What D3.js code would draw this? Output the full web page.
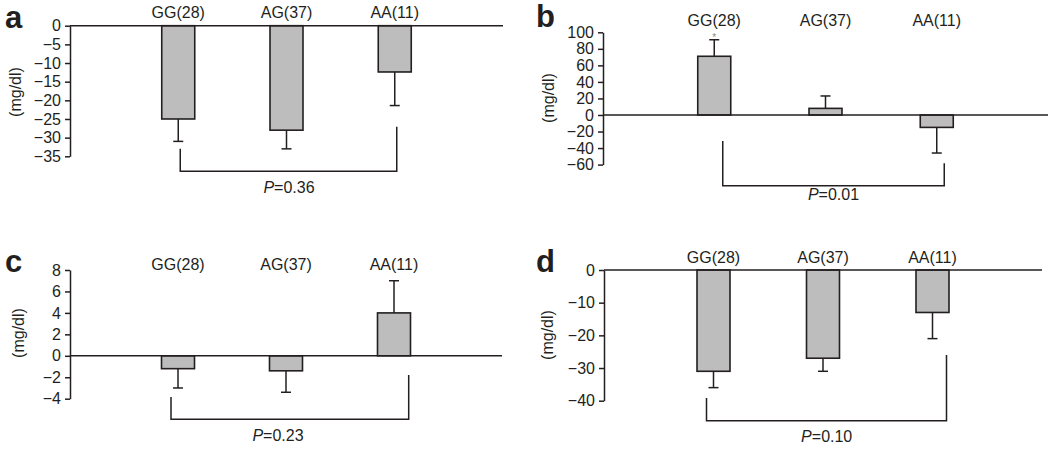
<!DOCTYPE html>
<html>
<head>
    <meta charset="utf-8">
    <title>Genotype change in mg/dl</title>
    <style>
        body { margin: 0; background: #fff; }
        svg { display: block; }
        text { font-family: "Liberation Sans", Arial, Helvetica, sans-serif; fill: #231f20; }
        .axis path, .axis line { stroke: #231f20; stroke-width: 1.5px; }
        .axis text { font-size: 16px; }
        .bar { fill: #bdbdbd; stroke: #231f20; stroke-width: 1.6px; }
        .err, .zero, .bracket { stroke: #231f20; stroke-width: 1.5px; fill: none; }
        .cat, .ptext, .ylab { font-size: 16px; }
        .letter { font-size: 31px; font-weight: bold; }
    </style>
</head>
<body>
    <svg width="1050" height="450"></svg>

    <script src="https://d3js.org/d3.v7.min.js"></script>
    <script>
        // genotype groups (n)
        var categories = ["GG(28)", "AG(37)", "AA(11)"];

        // panel a
        var meanA = [-25, -28, -12.4];
        var errA = [6, 5, 9];
        var ticksA = [0, -5, -10, -15, -20, -25, -30, -35];

        // panel b
        var meanB = [71, 8, -15];
        var errB = [20, 15, 31];
        var ticksB = [100, 80, 60, 40, 20, 0, -20, -40, -60];

        // panel c
        var meanC = [-1.2, -1.4, 4.0];
        var errC = [1.8, 2.0, 3.0];
        var ticksC = [8, 6, 4, 2, 0, -2, -4];

        // panel d
        var meanD = [-31, -27, -13];
        var errD = [5, 4, 8];
        var ticksD = [0, -10, -20, -30, -40];

        var pValues = ["0.36", "0.01", "0.23", "0.10"];

        // layout of each panel (pixels) and bracket ends (in data units)
        var panels = [
            { letter: "a", mean: meanA, err: errA, ticks: ticksA, p: pValues[0],
              x0: 70, x1: 503, yTop: 25.7, yBot: 156.3, catY: 18,
              letterX: 5, letterY: 28, ylabX: 15, ylabY: 92,
              br: { dl: 2, dr: 2, topL: -33, topR: -27.1, bottom: -39 }, pDx: 2.5, pDy: 22, star: false },
            { letter: "b", mean: meanB, err: errB, ticks: ticksB, p: pValues[1],
              x0: 603, x1: 1048, yTop: 32.3, yBot: 164.6, catY: 26,
              letterX: 536, letterY: 27, ylabX: 548, ylabY: 98,
              br: { dl: 8.5, dr: 7.5, topL: -31.4, topR: -58.4, bottom: -85.5 }, pDx: 8, pDy: 14.5, star: true },
            { letter: "c", mean: meanC, err: errC, ticks: ticksC, p: pValues[2],
              x0: 70, x1: 502, yTop: 270, yBot: 398.7, catY: 270,
              letterX: 5, letterY: 272, ylabX: 18, ylabY: 333,
              br: { dl: -7, dr: 14.7, topL: -3.83, topR: -1.8, bottom: -5.92 }, pDx: -8, pDy: 22, star: false },
            { letter: "d", mean: meanD, err: errD, ticks: ticksD, p: pValues[3],
              x0: 604, x1: 1042, yTop: 270, yBot: 400.7, catY: 263,
              letterX: 536, letterY: 272, ylabX: 547, ylabY: 335,
              br: { dl: -7, dr: 14, topL: -39.2, topR: -26, bottom: -46.1 }, pDx: 3.7, pDy: 21, star: false }
        ];

        var svg = d3.select("svg");
        var barW = 33, capW = 10;

        panels.forEach(function(pn) {
            var g = svg.append("g");

            var x = d3.scalePoint()
                .domain(categories)
                .range([pn.x0, pn.x1])
                .padding(1);

            var y = d3.scaleLinear()
                .domain([d3.min(pn.ticks), d3.max(pn.ticks)])
                .range([pn.yBot, pn.yTop]);

            var rows = categories.map(function(c, i) {
                return { cat: c, mean: pn.mean[i], err: pn.err[i] };
            });

            // y axis
            g.append("g")
                .attr("class", "axis")
                .attr("transform", "translate(" + pn.x0 + ",0)")
                .call(d3.axisLeft(y).tickValues(pn.ticks).tickSize(5).tickSizeOuter(0).tickPadding(4))
                .attr("font-family", null).attr("font-size", null);

            // error bars
            rows.forEach(function(d) {
                var cx = x(d.cat);
                var end = d.mean >= 0 ? d.mean + d.err : d.mean - d.err;
                g.append("line").attr("class", "err")
                    .attr("x1", cx).attr("x2", cx)
                    .attr("y1", y(d.mean)).attr("y2", y(end));
                g.append("line").attr("class", "err")
                    .attr("x1", cx - capW / 2).attr("x2", cx + capW / 2)
                    .attr("y1", y(end)).attr("y2", y(end));
            });

            // bars
            g.selectAll(".bar")
                .data(rows)
                .enter().append("rect")
                .attr("class", "bar")
                .attr("x", function(d) { return x(d.cat) - barW / 2; })
                .attr("width", barW)
                .attr("y", function(d) { return y(Math.max(0, d.mean)); })
                .attr("height", function(d) { return Math.abs(y(d.mean) - y(0)); });

            // zero line
            g.append("line").attr("class", "zero")
                .attr("x1", pn.x0).attr("x2", pn.x1)
                .attr("y1", y(0)).attr("y2", y(0));

            // group labels
            g.selectAll(".cat")
                .data(categories)
                .enter().append("text")
                .attr("class", "cat")
                .attr("x", function(d) { return x(d); })
                .attr("y", pn.catY)
                .attr("text-anchor", "middle")
                .text(function(d) { return d; });

            if (pn.star) {
                var top = pn.mean[0] + pn.err[0];
                g.append("text")
                    .attr("x", x(categories[0]))
                    .attr("y", y(top) + 1)
                    .attr("text-anchor", "middle")
                    .attr("font-size", "10px")
                    .style("fill", "#8a8a8a")
                    .text("*");
            }

            // bracket with P value
            var lx = x(categories[0]) + pn.br.dl;
            var rx = x(categories[2]) + pn.br.dr;
            var by = y(pn.br.bottom);
            g.append("path").attr("class", "bracket")
                .attr("d", "M" + lx + "," + y(pn.br.topL) + "V" + by + "H" + rx + "V" + y(pn.br.topR));

            var pt = g.append("text")
                .attr("class", "ptext")
                .attr("x", x(categories[1]) + pn.pDx)
                .attr("y", by + pn.pDy)
                .attr("text-anchor", "middle");
            pt.append("tspan").style("font-style", "italic").text("P");
            pt.append("tspan").text("=" + pn.p);

            // unit label
            g.append("text")
                .attr("class", "ylab")
                .attr("transform", "translate(" + pn.ylabX + "," + pn.ylabY + ") rotate(-90)")
                .attr("dy", "0.35em")
                .attr("text-anchor", "middle")
                .text("(mg/dl)");

            // panel letter
            g.append("text")
                .attr("class", "letter")
                .attr("x", pn.letterX)
                .attr("y", pn.letterY)
                .text(pn.letter);
        });
    </script>
</body>
</html>
